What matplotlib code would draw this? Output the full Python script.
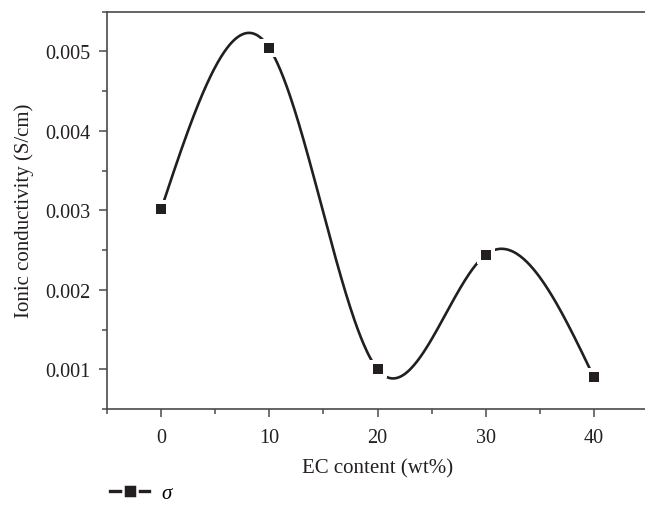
import numpy as np
import matplotlib
matplotlib.use('Agg')
import matplotlib.pyplot as plt
from matplotlib.lines import Line2D
from matplotlib.ticker import MultipleLocator

# data
ec_content = [0, 10, 20, 30, 40]
conductivity = [0.00301, 0.00504, 0.00100, 0.00244, 0.00090]

x_ticks = [0, 10, 20, 30, 40]
y_ticks = [0.001, 0.002, 0.003, 0.004, 0.005]


# natural cubic spline, used only to draw the smooth connecting line
def natural_spline(x, y, n=400):
    x = np.asarray(x, float)
    y = np.asarray(y, float)
    k = len(x)
    h = np.diff(x)
    A = np.zeros((k, k))
    b = np.zeros(k)
    A[0, 0] = 1
    A[-1, -1] = 1
    for i in range(1, k - 1):
        A[i, i - 1] = h[i - 1]
        A[i, i] = 2 * (h[i - 1] + h[i])
        A[i, i + 1] = h[i]
        b[i] = 6 * ((y[i + 1] - y[i]) / h[i] - (y[i] - y[i - 1]) / h[i - 1])
    M = np.linalg.solve(A, b)
    xs = np.linspace(x[0], x[-1], n)
    idx = np.clip(np.searchsorted(x, xs) - 1, 0, k - 2)
    x0, x1 = x[idx], x[idx + 1]
    hh = x1 - x0
    t0 = x1 - xs
    t1 = xs - x0
    ys = (M[idx] * t0**3 / (6 * hh) + M[idx + 1] * t1**3 / (6 * hh)
          + (y[idx] / hh - M[idx] * hh / 6) * t0
          + (y[idx + 1] / hh - M[idx + 1] * hh / 6) * t1)
    return xs, ys


plt.rcParams['font.family'] = ['Liberation Serif', 'DejaVu Serif']
plt.rcParams['font.size'] = 14.5

fig = plt.figure(figsize=(6.45, 5.06), dpi=100)
ax = fig.add_axes([107 / 645, 96 / 506, 541 / 645, 397.5 / 506])

axis_col = '#4a4a4a'
ink = '#231f20'

xs, ys = natural_spline(ec_content, conductivity)
ax.plot(xs, ys, color=ink, lw=1.9, zorder=2)
# white halo makes the small gap between line and markers
ax.plot(ec_content, conductivity, ls='none', marker='s', ms=12.5,
        color='white', mew=0, zorder=3)
ax.plot(ec_content, conductivity, ls='none', marker='s', ms=7.2,
        color=ink, mew=0, zorder=4)

ax.set_xlim(-5, 45)
ax.set_ylim(0.0005, 0.0055)
ax.set_xticks(x_ticks)
ax.set_xticklabels([str(v) for v in x_ticks])
ax.set_yticks(y_ticks)
ax.set_yticklabels(['%.3f' % v for v in y_ticks])
ax.xaxis.set_minor_locator(MultipleLocator(5))
ax.yaxis.set_minor_locator(MultipleLocator(0.0005))

for side in ['left', 'bottom', 'top']:
    ax.spines[side].set_color(axis_col)
    ax.spines[side].set_linewidth(1.2)
ax.spines['right'].set_visible(False)

ax.tick_params(which='major', direction='out', length=6, width=1.1,
               color=axis_col, pad=6, labelcolor=ink)
ax.tick_params(axis='x', which='major', pad=8)
ax.tick_params(which='minor', direction='out', length=3.5, width=1.1,
               color=axis_col)
ax.tick_params(top=False, right=False, which='both')

ax.set_xlabel('EC content (wt%)', fontsize=15, color=ink, labelpad=8)
ax.set_ylabel('Ionic conductivity (S/cm)', fontsize=15, color=ink, labelpad=8)

handle = Line2D([], [], color=ink, lw=2.4, marker='s', ms=9.5,
                markerfacecolor=ink, markeredgecolor='white', mew=1.8)
fig.legend([handle], ['σ'], loc='center left',
           bbox_to_anchor=(100 / 645, 1 - 494 / 506), frameon=False,
           handlelength=1.85, handletextpad=0.6, borderpad=0,
           prop=dict(family='Liberation Serif', style='italic', size=15))

fig.savefig('out.png', dpi=100)
